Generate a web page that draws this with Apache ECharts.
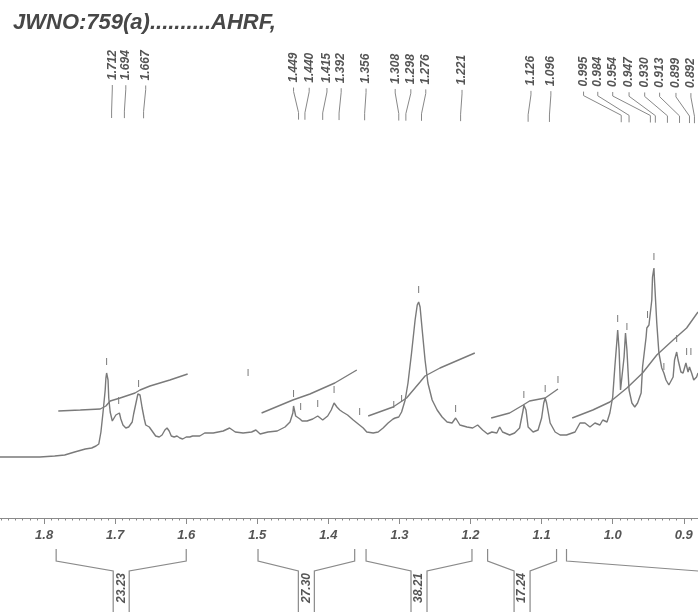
<!DOCTYPE html>
<html><head><meta charset="utf-8">
<script src="https://cdn.jsdelivr.net/npm/echarts@6/dist/echarts.min.js"></script>
<style>html,body{margin:0;padding:0;background:#fff}#c{width:698px;height:612px}</style>
</head><body><div id="c"></div>
<script>
// ---------- data ----------
const titleText = 'JWNO:759(a)..........AHRF,';
const tickLabels = ['1.8','1.7','1.6','1.5','1.4','1.3','1.2','1.1','1.0','0.9'];

const specPpm = [1.862,1.834,1.806,1.785,1.771,1.757,1.742,1.733,1.727,1.723,1.720,1.717,1.714,1.713,1.712,1.710,1.709,1.707,1.704,1.702,1.699,1.694,1.692,1.689,1.685,1.681,1.676,1.674,1.671,1.668,1.667,1.665,1.662,1.659,1.657,1.652,1.650,1.647,1.643,1.638,1.634,1.630,1.627,1.624,1.621,1.617,1.613,1.609,1.605,1.600,1.595,1.591,1.581,1.574,1.562,1.548,1.539,1.531,1.520,1.508,1.502,1.496,1.485,1.472,1.461,1.454,1.450,1.449,1.446,1.440,1.437,1.430,1.422,1.415,1.408,1.401,1.396,1.392,1.388,1.384,1.380,1.373,1.365,1.358,1.356,1.351,1.346,1.337,1.330,1.323,1.316,1.309,1.306,1.304,1.301,1.297,1.292,1.288,1.283,1.278,1.275,1.273,1.271,1.268,1.264,1.260,1.254,1.247,1.240,1.233,1.226,1.221,1.215,1.205,1.197,1.190,1.183,1.176,1.170,1.163,1.159,1.155,1.145,1.138,1.131,1.126,1.125,1.122,1.119,1.112,1.105,1.100,1.097,1.095,1.093,1.088,1.081,1.074,1.065,1.053,1.046,1.039,1.032,1.025,1.018,1.014,1.008,1.004,1.000,0.997,0.994,0.993,0.991,0.989,0.987,0.984,0.982,0.980,0.977,0.973,0.969,0.965,0.960,0.958,0.953,0.952,0.949,0.945,0.944,0.942,0.941,0.938,0.935,0.931,0.928,0.925,0.921,0.915,0.913,0.910,0.908,0.904,0.901,0.897,0.894,0.892,0.889,0.886,0.882,0.880];
const specInt = [13,13,13,14,15,18,21,22,24,26,38,58,80,92,97,90,72,58,49,50,55,57,51,45,42,43,48,56,66,76,78,75,62,51,45,43,42,38,34,33,35,40,42,39,34,33,34,32,31,33,33,34,34,37,37,39,42,38,37,38,40,36,38,39,43,48,57,64,54,51,49,49,51,54,50,54,60,67,63,60,58,55,50,46,47,42,38,37,38,42,47,51,52,50,53,58,70,87,117,150,165,168,163,140,110,87,70,60,53,48,47,52,45,43,42,45,40,36,38,37,43,38,35,37,42,60,65,60,43,38,40,52,67,72,67,47,38,35,35,38,47,47,43,47,45,50,48,57,73,103,130,140,120,80,78,113,137,120,80,67,63,67,77,103,133,142,145,170,193,202,187,147,117,102,97,90,85,93,110,118,110,98,97,107,98,103,97,90,93,97];

// integral curves
const int1Ppm = [1.780,1.749,1.721,1.713,1.707,1.693,1.672,1.665,1.651,1.623,1.598];
const int1Val = [59,60,61,64,69,72,77,80,84,90,96];
const int2Ppm = [1.494,1.450,1.426,1.391,1.360];
const int2Val = [57,70,76,87,100];
const int3Ppm = [1.344,1.309,1.290,1.271,1.264,1.243,1.194];
const int3Val = [54,63,72,88,94,102,117];
const int4Ppm = [1.171,1.145,1.126,1.117,1.095,1.077];
const int4Val = [52,57,65,69,72,81];
const int5Ppm = [1.057,1.028,1.004,0.980,0.958,0.938,0.915,0.896,0.880];
const int5Val = [52,60,68,82,97,115,130,142,158];

// peak picking
const peakLabels = ['1.712','1.694','1.667','1.449','1.440','1.415','1.392','1.356','1.308','1.298','1.276','1.221','1.126','1.096','0.995','0.984','0.954','0.947','0.930','0.913','0.899','0.892'];
const markerPpm = [1.712,1.695,1.667,1.513,1.449,1.439,1.415,1.392,1.356,1.308,1.297,1.273,1.221,1.125,1.095,1.077,0.993,0.980,0.951,0.942,0.928,0.910,0.896,0.890];
const markerLevel = [105,66,83,94,73,60,63,77,55,62,68,177,58,72,78,87,148,140,152,210,100,128,115,115];

// integration
const integValues = ['23.23','27.30','38.21','17.24',''];
const integFrom = [1.783,1.499,1.347,1.176,1.065];
const integTo = [1.600,1.363,1.198,1.079,null];

// ---------- layout ----------
const labelSlots = [1.704,1.685,1.657,1.449,1.427,1.402,1.382,1.347,1.306,1.284,1.263,1.212,1.115,1.087,1.041,1.021,1.000,0.977,0.955,0.934,0.911,0.890];
const labelTilt = 0.007;
const X_MIN = 0.880, X_MAX = 1.862;
const GRAY = '#7a7a7a';
const TXT = '#555';
const FONT = '"Liberation Sans", Arial, sans-serif';

const zip = (a, b) => a.map((v, i) => [v, b[i]]);
const minorTicks = [], majorTicks = [];
for (let k = 88; k <= 186; k++) minorTicks.push(+(k / 100).toFixed(2));
for (let k = 9; k <= 18; k++) majorTicks.push(+(k / 10).toFixed(1));

const chart = echarts.init(document.getElementById('c'), null, {renderer: 'canvas'});

function lineSeries(data, z) {
  return {type: 'line', data, showSymbol: false, symbol: 'none', silent: true, animation: false, z: z || 2,
    lineStyle: {color: GRAY, width: 1.4}};
}

const option = {
  backgroundColor: '#fff',
  animation: false,
  title: {text: titleText, left: 8, top: 7,
    textStyle: {fontSize: 22, fontStyle: 'italic', fontWeight: 'bold', color: '#474747', fontFamily: FONT}},
  grid: {left: 0, right: 0, top: 0, bottom: 0},
  xAxis: [{
    type: 'value', inverse: true, min: X_MIN, max: X_MAX, position: 'bottom', offset: -94,
    axisLine: {onZero: false, lineStyle: {color: '#8a8a8a', width: 1}},
    axisTick: {customValues: minorTicks, length: 2.5, lineStyle: {color: '#8a8a8a'}},
    axisLabel: {customValues: tickLabels.map(Number), formatter: v => v.toFixed(1), margin: 11,
      color: TXT, fontStyle: 'italic', fontWeight: 'bold', fontSize: 13, fontFamily: FONT},
    splitLine: {show: false}
  }, {
    type: 'value', inverse: true, min: X_MIN, max: X_MAX, position: 'bottom', offset: -94,
    axisLine: {show: false, onZero: false},
    axisTick: {customValues: majorTicks, length: 6, lineStyle: {color: '#8a8a8a'}},
    axisLabel: {show: false}, splitLine: {show: false}
  }],
  yAxis: {type: 'value', min: -142, max: 470, show: false},
  series: [
    lineSeries(zip(specPpm, specInt), 3),
    lineSeries(zip(int1Ppm, int1Val)),
    lineSeries(zip(int2Ppm, int2Val)),
    lineSeries(zip(int3Ppm, int3Val)),
    lineSeries(zip(int4Ppm, int4Val)),
    lineSeries(zip(int5Ppm, int5Val)),
    { // peak markers
      type: 'custom', silent: true, animation: false,
      data: zip(markerPpm, markerLevel),
      renderItem(params, api) {
        const p = api.coord([api.value(0), api.value(1)]);
        return {type: 'line', shape: {x1: p[0], y1: p[1], x2: p[0], y2: p[1] - 7},
          style: {stroke: GRAY, lineWidth: 1}};
      }
    },
    { // peak labels
      type: 'custom', silent: true, animation: false,
      data: peakLabels.map((t, i) => [labelSlots[i], parseFloat(t) - labelTilt, i]),
      renderItem(params, api) {
        const lx = api.coord([api.value(0), 0])[0];
        const bx = api.coord([api.value(1), 0])[0];
        const i = api.value(2);
        const top = 85 + 0.014 * (lx - 112);
        const bot = 118 + 0.009 * (lx - 112);
        return {type: 'group', children: [
          {type: 'polyline', shape: {points: [[lx, top], [lx, top + 4], [bx, bot - 7], [bx, bot]]},
            style: {stroke: '#888', lineWidth: 1, fill: null}},
          {type: 'text', x: lx, y: top - 5, rotation: Math.PI / 2,
            style: {text: peakLabels[i], font: 'italic bold 12px ' + FONT, fill: TXT,
              align: 'left', verticalAlign: 'middle'}}
        ]};
      }
    },
    { // integration brackets
      type: 'custom', silent: true, animation: false,
      data: integFrom.map((f, i) => [f, integTo[i] == null ? X_MIN - 0.1 : integTo[i], i]),
      renderItem(params, api) {
        const i = api.value(2);
        const L = api.coord([integFrom[i], 0])[0];
        const st = {stroke: '#8a8a8a', lineWidth: 1.2, fill: null};
        if (integTo[i] == null) {
          return {type: 'polyline', shape: {points: [[L, 549], [L, 561], [L + 250, 580]]}, style: st};
        }
        const R = api.coord([integTo[i], 0])[0];
        const C = (L + R) / 2, h = 8;
        return {type: 'group', children: [
          {type: 'polyline', shape: {points: [[L, 549], [L, 561], [C - h, 571], [C - h, 612]]}, style: st},
          {type: 'polyline', shape: {points: [[R, 549], [R, 561], [C + h, 571], [C + h, 612]]}, style: st},
          {type: 'text', x: C, y: 603, rotation: Math.PI / 2,
            style: {text: integValues[i], font: 'italic bold 12px ' + FONT, fill: TXT,
              align: 'left', verticalAlign: 'middle'}}
        ]};
      }
    }
  ]
};
chart.setOption(option);
</script>
</body></html>
